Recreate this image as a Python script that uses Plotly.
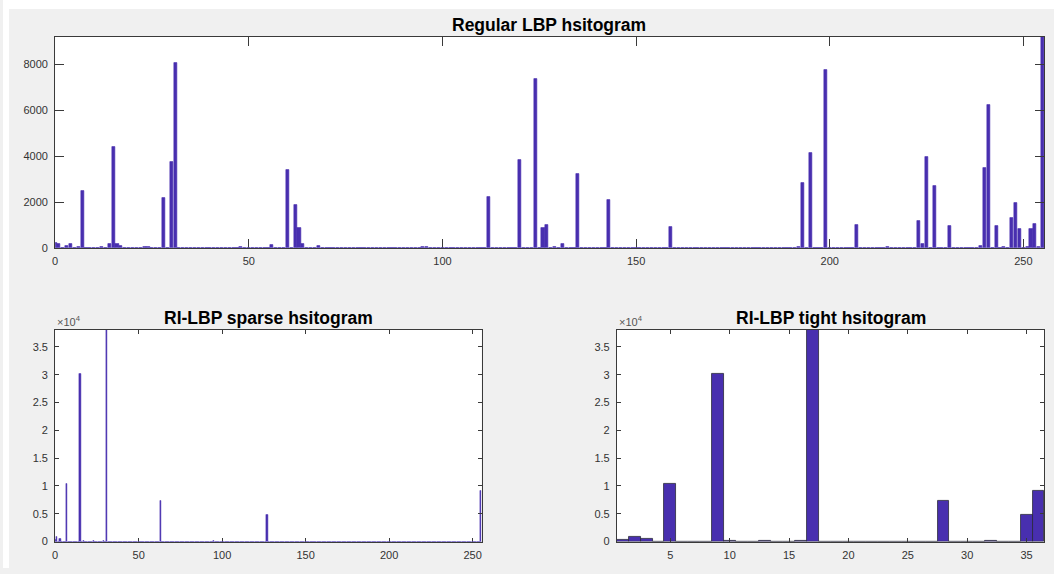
import plotly.graph_objects as go

# ---------------- data ----------------
# Regular LBP histogram: non-zero bins (0..255) and counts
reg_bins = [0, 1, 3, 4, 6, 7, 12, 14, 15, 16, 17, 23, 24, 28, 30, 31, 48, 56, 60, 62,
            63, 64, 68, 71, 92, 95, 96, 112, 116, 120, 124, 125, 126, 127, 129, 131,
            135, 143, 152, 155, 159, 187, 191, 192, 193, 195, 197, 199, 207, 209, 215,
            223, 224, 225, 227, 231, 239, 240, 241, 243, 245, 247, 248, 249, 251, 252,
            253, 254, 255]
reg_counts = [240, 200, 100, 170, 50, 2470, 30, 170, 4390, 170, 100, 30, 40, 2180, 3740,
              8030, 50, 140, 3400, 1860, 860, 170, 100, 20, 20, 50, 30, 2240, 20, 3830,
              7370, 20, 860, 990, 60, 170, 3210, 2080, 20, 20, 900, 20, 20, 30, 2840,
              4120, 20, 7760, 990, 20, 30, 1160, 170, 3960, 2710, 960, 80, 3500, 6220,
              975, 70, 1300, 1950, 830, 60, 850, 1060, 50, 9180]

# RI-LBP sparse histogram: non-zero bins (0..255) and counts
ri_bins = [0, 1, 3, 5, 7, 9, 11, 15, 17, 19, 23, 27, 29, 31, 63, 95, 127, 255]
ri_counts = [250, 770, 500, 40, 10450, 20, 30, 30200, 150, 20, 60, 30, 80, 38080,
             7300, 150, 4800, 9200]

# RI-LBP tight histogram: 36 bins
tight_bins = list(range(1, 37))
tight_counts = [250, 770, 500, 40, 10450, 20, 30, 0, 30200, 150, 20, 0, 60, 0, 30, 80,
                38080, 0, 0, 0, 0, 0, 0, 0, 0, 0, 0, 7300, 0, 0, 0, 150, 0, 0, 4800, 9200]

reg_x = list(range(256))
reg_y = [0] * 256
for b, c in zip(reg_bins, reg_counts):
    reg_y[b] = c
ri_y = [0] * 256
for b, c in zip(ri_bins, ri_counts):
    ri_y[b] = c

x_ticks_256 = [0, 50, 100, 150, 200, 250]
y_ticks_top = [0, 2000, 4000, 6000, 8000]
y_ticks_bot = [0, 5000, 10000, 15000, 20000, 25000, 30000, 35000]
y_text_bot = ["0", "0.5", "1", "1.5", "2", "2.5", "3", "3.5"]
x_ticks_tight = [5, 10, 15, 20, 25, 30, 35]

# ---------------- styling ----------------
W, H = 1054, 574
BAR = "rgb(72,47,175)"
AX = "#3a3a3a"
FONT = "Liberation Sans, Arial, Helvetica, sans-serif"

def px(x):
    return x / W

def py(y):
    return 1 - y / H

fig = go.Figure()
fig.add_trace(go.Bar(x=reg_x, y=reg_y, width=0.8, marker=dict(color=BAR, line=dict(color=BAR, width=0.6)),
                     xaxis="x", yaxis="y", showlegend=False))
fig.add_trace(go.Bar(x=reg_x, y=ri_y, width=0.8, marker=dict(color=BAR, line=dict(color=BAR, width=0.5)),
                     xaxis="x2", yaxis="y2", showlegend=False))
fig.add_trace(go.Bar(x=tight_bins, y=tight_counts, width=1.0,
                     marker=dict(color=BAR, line=dict(color="#2a2a3a", width=0.8)),
                     xaxis="x3", yaxis="y3", showlegend=False))

common = dict(showline=True, linecolor=AX, linewidth=1, mirror="ticks", ticks="inside",
              tickcolor=AX, tickwidth=1, showgrid=False, zeroline=False,
              tickfont=dict(family=FONT, size=11, color="#333333"))

top_dom_y = [py(250.7), py(37.3)]
bot_dom_y = [py(547.3), py(333.3)]

fig.update_layout(
    width=W, height=H,
    margin=dict(l=0, r=0, t=0, b=0),
    paper_bgcolor="#f0f0f0",
    plot_bgcolor="white",
    bargap=0,
    xaxis=dict(domain=[px(52.3), px(1044.3)], range=[0, 255.4], tickvals=x_ticks_256,
               ticklen=9, anchor="y", ticklabelstandoff=3, **common),
    yaxis=dict(domain=top_dom_y, range=[0, 9180], tickvals=y_ticks_top,
               ticklen=9, anchor="x", ticklabelstandoff=4, **common),
    xaxis2=dict(domain=[px(52.3), px(480)], range=[0, 255.4], tickvals=x_ticks_256,
                ticklen=4, anchor="y2", ticklabelstandoff=3, **common),
    yaxis2=dict(domain=bot_dom_y, range=[0, 38080], tickvals=y_ticks_bot, ticktext=y_text_bot,
                ticklen=4, anchor="x2", ticklabelstandoff=4, **common),
    xaxis3=dict(domain=[px(615.7), px(1044.3)], range=[0.5, 36.5], tickvals=x_ticks_tight,
                ticklen=4, anchor="y3", ticklabelstandoff=3, **common),
    yaxis3=dict(domain=bot_dom_y, range=[0, 38080], tickvals=y_ticks_bot, ticktext=y_text_bot,
                ticklen=4, anchor="x3", ticklabelstandoff=4, **common),
)

# thin white strips at top / left of the figure window (as in the screenshot)
fig.add_shape(type="rect", xref="paper", yref="paper", x0=0, x1=1, y0=py(9), y1=1,
              fillcolor="white", line=dict(width=0), layer="below")
fig.add_shape(type="rect", xref="paper", yref="paper", x0=0, x1=px(6), y0=0, y1=1,
              fillcolor="white", line=dict(width=0), layer="below")

# purple baselines of bar series
fig.add_shape(type="line", xref="x", yref="y", x0=0, x1=255.4, y0=0, y1=0,
              line=dict(color="rgb(110,95,200)", width=1.2))
fig.add_shape(type="line", xref="x2", yref="y2", x0=0, x1=255.4, y0=0, y1=0,
              line=dict(color="rgb(110,95,200)", width=1.2))

title_font = dict(family=FONT, size=17.5, color="black")
fig.add_annotation(text="<b>Regular LBP hsitogram</b>", xref="paper", yref="paper",
                   x=px(548), y=py(25), xanchor="center", yanchor="middle",
                   showarrow=False, font=title_font)
fig.add_annotation(text="<b>RI-LBP sparse hsitogram</b>", xref="paper", yref="paper",
                   x=px(266), y=py(321.5), xanchor="center", yanchor="middle",
                   showarrow=False, font=title_font)
fig.add_annotation(text="<b>RI-LBP tight hsitogram</b>", xref="paper", yref="paper",
                   x=px(830), y=py(321.5), xanchor="center", yanchor="middle",
                   showarrow=False, font=title_font)

exp_font = dict(family=FONT, size=11, color="#555555")
for xl in (52.0, 615.5):
    fig.add_annotation(text="×10<sup>4</sup>", xref="paper", yref="paper",
                       x=px(xl), y=py(333.5), xanchor="left", yanchor="bottom",
                       showarrow=False, font=exp_font)

fig.write_html("out.html", config={"displayModeBar": False},
               post_script="document.body.style.margin='0';document.body.style.overflow='hidden';")
